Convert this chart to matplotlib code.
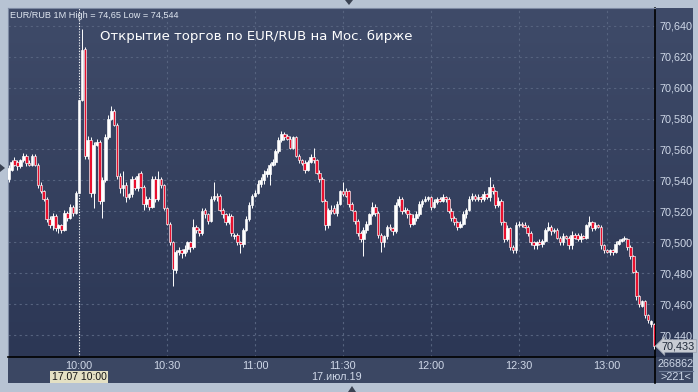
import numpy as np
import pandas as pd
import matplotlib
matplotlib.use('Agg')
import matplotlib.pyplot as plt
from matplotlib.colors import LinearSegmentedColormap
from matplotlib.patches import Polygon
from matplotlib.lines import Line2D

plt.rcParams['font.family'] = ['Liberation Sans', 'DejaVu Sans']

# ---- data: EUR/RUB 1-minute candles, 17.07.19 from 09:36 ----
session_start = '09:36'

opens = [
    70.541, 70.547, 70.553, 70.552, 70.549, 70.553, 70.556, 70.551, 70.550, 70.556,
    70.550, 70.537, 70.533, 70.528, 70.515, 70.511, 70.517, 70.509, 70.511, 70.508,
    70.519, 70.516, 70.523, 70.519, 70.532, 70.592, 70.625, 70.556, 70.566, 70.532,
    70.563, 70.565, 70.527, 70.540, 70.568, 70.580, 70.585, 70.576, 70.543, 70.535,
    70.537, 70.529, 70.531, 70.541, 70.535, 70.545, 70.536, 70.525, 70.528, 70.523,
    70.541, 70.528, 70.541, 70.537, 70.522, 70.512, 70.500, 70.482, 70.494, 70.495,
    70.493, 70.496, 70.500, 70.497, 70.510, 70.508, 70.506, 70.521, 70.518, 70.514,
    70.528, 70.530, 70.530, 70.521, 70.518, 70.513, 70.517, 70.504, 70.505, 70.500,
    70.499, 70.508, 70.515, 70.524, 70.530, 70.532, 70.538, 70.540, 70.544, 70.544,
    70.550, 70.552, 70.559, 70.566, 70.570, 70.569, 70.567, 70.561, 70.568, 70.556,
    70.553, 70.551, 70.547, 70.552, 70.555, 70.553, 70.545, 70.541, 70.527, 70.511,
    70.521, 70.522, 70.519, 70.525, 70.533, 70.533, 70.533, 70.525, 70.520, 70.514,
    70.506, 70.502, 70.508, 70.512, 70.518, 70.523, 70.519, 70.505, 70.500, 70.504,
    70.510, 70.509, 70.507, 70.524, 70.528, 70.520, 70.521, 70.518, 70.512, 70.516,
    70.518, 70.525, 70.527, 70.528, 70.529, 70.523, 70.526, 70.528, 70.527, 70.529,
    70.528, 70.520, 70.516, 70.513, 70.510, 70.512, 70.518, 70.521, 70.528, 70.530,
    70.528, 70.529, 70.528, 70.531, 70.529, 70.536, 70.533, 70.524, 70.527, 70.513,
    70.502, 70.509, 70.497, 70.495, 70.511, 70.512, 70.511, 70.510, 70.506, 70.500,
    70.498, 70.500, 70.499, 70.501, 70.508, 70.510, 70.507, 70.508, 70.503, 70.500,
    70.504, 70.503, 70.498, 70.505, 70.505, 70.502, 70.504, 70.503, 70.511, 70.513,
    70.509, 70.511, 70.510, 70.498, 70.495, 70.494, 70.495, 70.494, 70.499, 70.501,
    70.502, 70.502, 70.497, 70.491, 70.481, 70.465, 70.459, 70.462, 70.453, 70.447,
    70.447]

closes = [
    70.548, 70.552, 70.550, 70.549, 70.553, 70.556, 70.551, 70.550, 70.556, 70.550,
    70.537, 70.533, 70.528, 70.515, 70.511, 70.517, 70.509, 70.511, 70.508, 70.519,
    70.516, 70.523, 70.519, 70.532, 70.592, 70.624, 70.556, 70.566, 70.532, 70.563,
    70.565, 70.527, 70.540, 70.568, 70.580, 70.585, 70.576, 70.543, 70.535, 70.537,
    70.529, 70.531, 70.541, 70.535, 70.543, 70.536, 70.525, 70.528, 70.523, 70.541,
    70.528, 70.541, 70.537, 70.522, 70.512, 70.500, 70.483, 70.494, 70.495, 70.493,
    70.496, 70.500, 70.497, 70.510, 70.508, 70.506, 70.520, 70.518, 70.514, 70.528,
    70.530, 70.529, 70.521, 70.518, 70.513, 70.517, 70.506, 70.505, 70.500, 70.499,
    70.508, 70.515, 70.524, 70.530, 70.532, 70.538, 70.540, 70.544, 70.546, 70.550,
    70.552, 70.559, 70.566, 70.570, 70.568, 70.567, 70.561, 70.568, 70.556, 70.553,
    70.551, 70.547, 70.552, 70.555, 70.553, 70.545, 70.541, 70.527, 70.511, 70.521,
    70.520, 70.519, 70.525, 70.533, 70.531, 70.530, 70.525, 70.521, 70.514, 70.506,
    70.502, 70.508, 70.512, 70.518, 70.523, 70.519, 70.505, 70.500, 70.504, 70.510,
    70.509, 70.507, 70.524, 70.528, 70.520, 70.521, 70.518, 70.512, 70.516, 70.518,
    70.525, 70.527, 70.528, 70.529, 70.523, 70.526, 70.528, 70.527, 70.529, 70.528,
    70.520, 70.516, 70.513, 70.510, 70.512, 70.518, 70.521, 70.528, 70.530, 70.528,
    70.529, 70.528, 70.531, 70.529, 70.536, 70.533, 70.524, 70.527, 70.513, 70.502,
    70.509, 70.497, 70.495, 70.511, 70.512, 70.511, 70.510, 70.506, 70.500, 70.498,
    70.500, 70.499, 70.501, 70.508, 70.510, 70.507, 70.508, 70.503, 70.500, 70.504,
    70.503, 70.498, 70.505, 70.503, 70.502, 70.504, 70.503, 70.511, 70.513, 70.509,
    70.511, 70.510, 70.498, 70.495, 70.494, 70.495, 70.494, 70.499, 70.501, 70.502,
    70.503, 70.497, 70.491, 70.481, 70.465, 70.460, 70.462, 70.453, 70.450, 70.449,
    70.433]

# wick lengths above / below the body, in thousandths
wick_up = [
    2, 1, 2, 1, 1, 2, 1, 2, 1, 1,
    1, 2, 1, 1, 2, 2, 1, 1, 1, 2,
    1, 2, 1, 1, 0, 14, 1, 3, 2, 2,
    2, 1, 2, 2, 2, 3, 1, 1, 2, 9,
    2, 1, 2, 1, 2, 1, 1, 2, 1, 2,
    2, 5, 1, 1, 1, 1, 1, 1, 2, 1,
    2, 1, 1, 5, 1, 1, 2, 1, 1, 2,
    9, 2, 1, 1, 1, 2, 1, 1, 1, 1,
    1, 2, 2, 1, 2, 2, 2, 3, 2, 1,
    2, 1, 2, 2, 1, 1, 2, 1, 1, 1,
    1, 2, 1, 2, 6, 1, 2, 1, 1, 1,
    3, 2, 2, 1, 6, 2, 1, 1, 1, 1,
    1, 2, 2, 1, 3, 2, 1, 1, 1, 1,
    2, 1, 2, 2, 1, 2, 1, 1, 2, 2,
    2, 1, 2, 1, 1, 2, 1, 1, 2, 1,
    1, 2, 1, 1, 2, 2, 1, 2, 2, 1,
    2, 1, 2, 1, 6, 2, 1, 2, 1, 1,
    2, 1, 1, 2, 2, 1, 2, 1, 1, 1,
    1, 2, 1, 1, 3, 1, 1, 1, 1, 2,
    1, 1, 2, 1, 1, 2, 1, 1, 4, 1,
    2, 1, 1, 1, 1, 1, 1, 2, 1, 1,
    1, 1, 1, 1, 1, 1, 1, 1, 1, 1,
    1]

wick_dn = [
    2, 1, 1, 2, 1, 1, 2, 1, 1, 1,
    2, 1, 1, 2, 2, 3, 2, 3, 2, 1,
    2, 1, 2, 1, 0, 1, 2, 2, 3, 10,
    1, 2, 11, 1, 1, 1, 1, 2, 3, 5,
    3, 1, 2, 1, 2, 1, 4, 2, 2, 1,
    2, 1, 2, 1, 1, 2, 11, 2, 2, 3,
    2, 2, 3, 1, 2, 2, 1, 2, 2, 1,
    1, 2, 1, 2, 2, 1, 2, 2, 2, 6,
    2, 1, 1, 2, 1, 1, 2, 2, 2, 7,
    1, 2, 1, 1, 2, 1, 1, 1, 1, 2,
    1, 2, 1, 1, 2, 1, 2, 1, 3, 2,
    2, 1, 2, 1, 1, 1, 2, 1, 2, 2,
    2, 11, 2, 1, 1, 2, 2, 6, 3, 2,
    1, 2, 1, 1, 2, 1, 2, 2, 1, 2,
    1, 2, 1, 1, 2, 1, 1, 1, 1, 2,
    1, 2, 2, 2, 1, 1, 2, 1, 1, 1,
    1, 2, 1, 1, 2, 2, 2, 1, 2, 2,
    1, 2, 2, 2, 1, 1, 1, 2, 2, 2,
    2, 1, 2, 1, 1, 2, 1, 1, 2, 2,
    1, 2, 2, 1, 1, 2, 1, 1, 1, 2,
    1, 1, 2, 2, 1, 2, 2, 1, 1, 1,
    1, 2, 2, 1, 2, 2, 1, 2, 2, 2,
    2]

time_labels = ['10:00', '10:30', '11:00', '11:30', '12:00', '12:30', '13:00']
price_ticks = [70.440, 70.460, 70.480, 70.500, 70.520, 70.540,
               70.560, 70.580, 70.600, 70.620, 70.640]
last_price = 70.433
marked_time = '10:00'

# ---- colours ----
outer_bg = '#b7c3d3'
panel_top = '#3f4b69'
panel_bottom = '#2c3755'
axis_bg = '#3b4763'
grid_col = '#56637f'
label_col = '#cfd8e8'
red = '#e8102e'

W, H = 698, 392


def fx(px):
    return px / W


def fy(py):
    return 1 - py / H


fig = plt.figure(figsize=(W / 100, H / 100), dpi=100, facecolor=outer_bg)

grad = np.linspace(0, 1, 256).reshape(-1, 1)
cmap = LinearSegmentedColormap.from_list('bg', [panel_top, panel_bottom])

# right price panel and bottom time panel (drawn first, behind main axes)
ax_r = fig.add_axes([fx(655), fy(357), fx(693) - fx(655), fy(8) - fy(357)], zorder=0)
ax_r.imshow(grad, cmap=cmap, aspect='auto', extent=[0, 1, 0, 1])
ax_r.set_xlim(0, 1); ax_r.set_ylim(0, 1); ax_r.axis('off')

ax_b = fig.add_axes([fx(8), fy(383), fx(693) - fx(8), fy(357) - fy(383)], zorder=0)
ax_b.set_facecolor(axis_bg)
ax_b.set_xticks([]); ax_b.set_yticks([])
for s in ax_b.spines.values():
    s.set_visible(False)

# main chart
ax = fig.add_axes([fx(8), fy(357), fx(655) - fx(8), fy(8) - fy(357)], zorder=1)
ax.imshow(grad, cmap=cmap, aspect='auto', extent=[0, 1, 0, 1],
          transform=ax.transAxes, zorder=0)

o = np.array(opens)
c = np.array(closes)
x = np.arange(len(c))
hi = np.maximum(o, c) + np.array(wick_up) / 1000
lo = np.minimum(o, c) - np.array(wick_dn) / 1000

up = c >= o
body = np.maximum(np.abs(c - o), 0.0007)
ax.vlines(x, lo, hi, color='white', lw=0.7, zorder=3)
ax.bar(x, body, bottom=np.minimum(o, c), width=0.9,
       color=np.where(up, 'white', red), edgecolor='white', linewidth=0.45, zorder=4)

t0 = pd.to_datetime(session_start, format='%H:%M')
tick_pos = [(pd.to_datetime(t, format='%H:%M') - t0).seconds / 60 for t in time_labels]
mark_pos = (pd.to_datetime(marked_time, format='%H:%M') - t0).seconds / 60

ax.set_xlim(-0.2, 220.4)
ax.set_ylim(70.4259, 70.6514)

for p in tick_pos:
    ax.axvline(p, color=grid_col, lw=0.8, ls=(0, (2, 3)), zorder=1)
for p in price_ticks:
    ax.axhline(p, color=grid_col, lw=0.8, ls=(0, (2, 3)), zorder=1)
ax.axvline(mark_pos, color='white', lw=0.8, ls=(0, (1, 1.5)), zorder=2)

ax.set_xticks(tick_pos)
ax.set_xticklabels(time_labels)
ax.set_yticks(price_ticks)
ax.set_yticklabels([f'{v:.3f}'.replace('.', ',') for v in price_ticks])
ax.yaxis.tick_right()
ax.tick_params(axis='both', length=0, labelsize=7.8, labelcolor=label_col)
ax.tick_params(axis='x', pad=3)
ax.tick_params(axis='y', pad=3)

for side in ['left', 'top']:
    ax.spines[side].set_color('#7d8aa3')
    ax.spines[side].set_linewidth(0.8)
for side in ['right', 'bottom']:
    ax.spines[side].set_color('black')
    ax.spines[side].set_linewidth(1.2)

# last price tag
ax.annotate(f'{last_price:.3f}'.replace('.', ','), xy=(1.0, last_price),
            xycoords=('axes fraction', 'data'), xytext=(7, 0), textcoords='offset pixels',
            ha='left', va='center', fontsize=7.8, color='#1e2838', annotation_clip=False,
            bbox=dict(boxstyle='larrow,pad=0.12', fc='#c8ccd4', ec='#9aa2b0', lw=0.5))

# frame lines
fig.add_artist(Line2D([fx(655), fx(655)], [fy(357), fy(383)], color='black', lw=1.2))
fig.add_artist(Line2D([fx(659), fx(693)], [fy(371), fy(371)], color='#6d7b96', lw=0.8))

# texts
fig.text(fx(10), fy(15), 'EUR/RUB 1M High = 74,65 Low = 74,544',
         fontsize=6.6, color='#dfe6f0', va='center', ha='left')
fig.text(fx(100), fy(36), 'Открытие торгов по EUR/RUB на Мос. бирже',
         fontsize=9.5, color='white', va='center', ha='left', family='DejaVu Sans')
fig.text(fx(79), fy(377), '17.07 10:00', fontsize=7.5, color='#141414', ha='center', va='center',
         bbox=dict(boxstyle='square,pad=0.12', fc='#e4e0c4', ec='none'))
fig.text(fx(336), fy(377), '17.июл.19', fontsize=7.8, color=label_col, ha='center', va='center')
fig.text(fx(676), fy(364), '266862', fontsize=7.8, color=label_col, ha='center', va='center')
fig.text(fx(676), fy(377.5), '>221<', fontsize=7.8, color=label_col, ha='center', va='center')

# small navigation triangles on the frame
tri_col = '#3a4252'
fig.add_artist(Polygon([[fx(345), fy(0)], [fx(353), fy(0)], [fx(349), fy(5)]],
                       closed=True, fc=tri_col, ec='none', transform=fig.transFigure))
fig.add_artist(Polygon([[fx(348), fy(392)], [fx(356), fy(392)], [fx(352), fy(386)]],
                       closed=True, fc=tri_col, ec='none', transform=fig.transFigure))
fig.add_artist(Polygon([[fx(0), fy(164)], [fx(0), fy(172)], [fx(5), fy(168)]],
                       closed=True, fc=tri_col, ec='none', transform=fig.transFigure))

fig.savefig('out.png', dpi=100, facecolor=outer_bg)
